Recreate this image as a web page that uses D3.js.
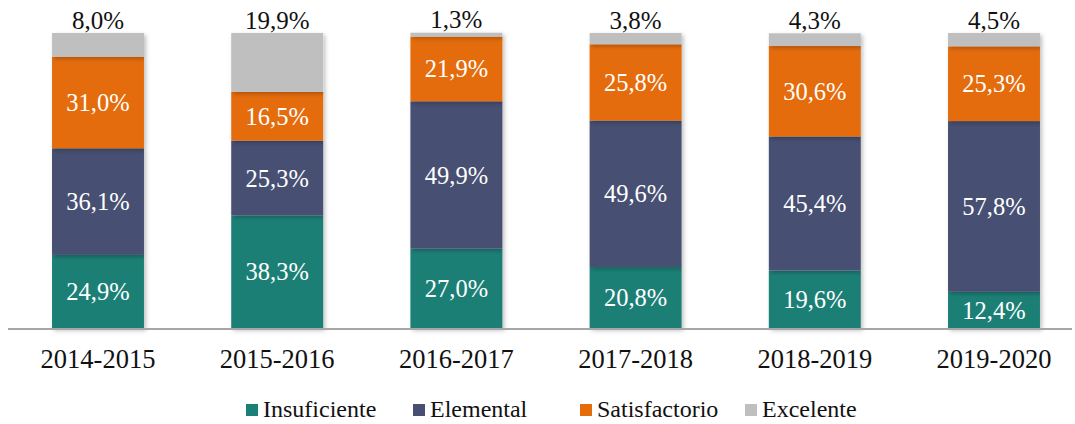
<!DOCTYPE html>
<html>
<head>
<meta charset="utf-8">
<script src="https://d3js.org/d3.v7.min.js"></script>
<style>
  body { margin: 0; background: #fff; }
  text { font-family: "Liberation Serif", "DejaVu Serif", serif; }
</style>
</head>
<body>
<svg width="1075" height="424"></svg>
<script>
var years = ['2014-2015', '2015-2016', '2016-2017', '2017-2018', '2018-2019', '2019-2020'];
var series = ['Insuficiente', 'Elemental', 'Satisfactorio', 'Excelente'];
var colors = ['#1a7f76', '#474f72', '#e46c0a', '#bfbfbf'];

var insuficiente  = [24.9, 38.3, 27.0, 20.8, 19.6, 12.4];
var elemental     = [36.1, 25.3, 49.9, 49.6, 45.4, 57.8];
var satisfactorio = [31.0, 16.5, 21.9, 25.8, 30.6, 25.3];
var excelente     = [8.0, 19.9, 1.3, 3.8, 4.3, 4.5];

var rows = years.map(function(y, i) {
  return {
    year: y,
    Insuficiente: insuficiente[i],
    Elemental: elemental[i],
    Satisfactorio: satisfactorio[i],
    Excelente: excelente[i]
  };
});

var svg = d3.select('svg');

var defs = svg.append('defs');
var f = defs.append('filter').attr('id', 'shadow')
  .attr('x', '-10%').attr('y', '-10%').attr('width', '130%').attr('height', '130%');
f.append('feDropShadow').attr('dx', 2).attr('dy', 2).attr('stdDeviation', 2)
  .attr('flood-color', '#000').attr('flood-opacity', 0.25);

var x = d3.scaleBand().domain(years).range([8.4, 1083.6]).paddingInner(0.487).paddingOuter(0.2435);
var y = d3.scaleLinear().domain([0, 100]).range([328.5, 33]);

var stack = d3.stack().keys(series);
var layers = stack(rows);

var fmt = function(v) { return v.toFixed(1).replace('.', ',') + '%'; };

var g = svg.append('g');

g.selectAll('g.layer')
  .data(layers)
  .enter()
  .append('g')
  .attr('class', 'layer')
  .attr('fill', function(d, i) { return colors[i]; })
  .attr('filter', 'url(#shadow)')
  .selectAll('rect')
  .data(function(d) { return d; })
  .enter()
  .append('rect')
  .attr('x', function(d) { return x(d.data.year); })
  .attr('width', x.bandwidth())
  .attr('y', function(d) { return y(d[1]); })
  .attr('height', function(d) { return y(d[0]) - y(d[1]); });

// axis line
svg.append('line')
  .attr('x1', 8).attr('x2', 1072)
  .attr('y1', 329).attr('y2', 329)
  .attr('stroke', '#a6a6a6').attr('stroke-width', 2);

// labels
layers.forEach(function(layer) {
  layer.forEach(function(d) {
    var cx = x(d.data.year) + x.bandwidth() / 2;
    var v = d.data[layer.key];
    var top = layer.key === 'Excelente';
    svg.append('text')
      .attr('x', cx)
      .attr('y', top ? y(d[1]) - 13 : (y(d[0]) + y(d[1])) / 2)
      .attr('dy', '0.35em')
      .attr('text-anchor', 'middle')
      .attr('font-size', top ? 25 : 24.5)
      .attr('fill', top ? '#111' : '#fff')
      .text(fmt(v));
  });
});

// x labels
svg.selectAll('text.xl')
  .data(years)
  .enter()
  .append('text')
  .attr('class', 'xl')
  .attr('x', function(d) { return x(d) + x.bandwidth() / 2; })
  .attr('y', 359)
  .attr('dy', '0.35em')
  .attr('text-anchor', 'middle')
  .attr('font-size', 26.5)
  .attr('fill', '#111')
  .text(function(d) { return d; });

// legend
var legendX = [246, 413, 580, 745];
var lg = svg.selectAll('g.leg')
  .data(series)
  .enter()
  .append('g')
  .attr('class', 'leg')
  .attr('transform', function(d, i) { return 'translate(' + legendX[i] + ',409)'; });
lg.append('rect')
  .attr('x', 0).attr('y', -5)
  .attr('width', 12).attr('height', 12)
  .attr('fill', function(d, i) { return colors[i]; });
lg.append('text')
  .attr('x', 17).attr('y', 0)
  .attr('dy', '0.35em')
  .attr('font-size', 24)
  .attr('fill', '#111')
  .text(function(d) { return d; });
</script>
</body>
</html>
